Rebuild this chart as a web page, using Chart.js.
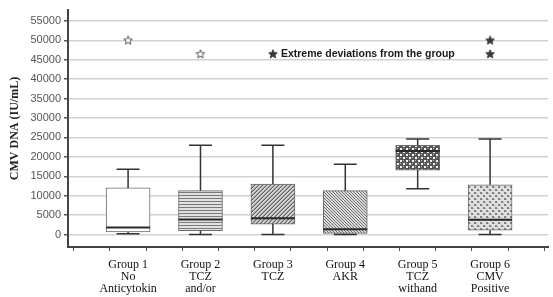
<!DOCTYPE html>
<html>
<head>
<meta charset="utf-8">
<script src="https://cdn.jsdelivr.net/npm/chart.js@4/dist/chart.umd.min.js"></script>
<style>
  html, body { margin: 0; padding: 0; background: #fff; }
  #wrap { width: 553px; height: 297px; position: relative; }
</style>
</head>
<body>
<div id="wrap"><canvas id="chart"></canvas></div>
<script>
const groupLabels = [
  ['Group 1', 'No', 'Anticytokin'],
  ['Group 2', 'TCZ', 'and/or'],
  ['Group 3', 'TCZ'],
  ['Group 4', 'AKR'],
  ['Group 5', 'TCZ', 'withand'],
  ['Group 6', 'CMV', 'Positive']
];
const whiskerMin = [200, 0, 0, 0, 11800, 0];
const q1 = [700, 1000, 2700, 300, 16600, 1100];
const median = [1800, 3900, 4200, 1400, 21500, 3800];
const q3 = [12000, 11300, 13000, 11300, 23000, 12800];
const whiskerMax = [16800, 23000, 23000, 18100, 24600, 24600];

// outliers: [group number, value]
const hollowOutliers = [[1, 50000], [2, 46500]];
const filledOutliers = [[6, 50000], [6, 46500]];
const noteStar = [3, 46500];
const noteText = 'Extreme deviations from the group';

const yTickValues = [];
for (let v = 0; v <= 57500; v += 2500) yTickValues.push(v);
const xTickValues = [0.5, 1, 1.5, 2, 2.5, 3, 3.5, 4, 4.5, 5, 5.5, 6, 6.5];

function makePattern(size, paint) {
  const c = document.createElement('canvas');
  c.width = size; c.height = size;
  const g = c.getContext('2d');
  paint(g, size);
  return g.createPattern(c, 'repeat');
}

const ctx0 = document.getElementById('chart').getContext('2d');
const patterns = [
  '#ffffff',
  makePattern(3, (g) => {
    g.fillStyle = '#e2e2e2'; g.fillRect(0, 0, 3, 3);
    g.fillStyle = '#7a7a7a'; g.fillRect(0, 0, 3, 1);
  }),
  makePattern(4, (g) => {
    g.fillStyle = '#d4d4d4'; g.fillRect(0, 0, 4, 4);
    for (let x = 0; x < 4; x++) for (let y = 0; y < 4; y++) {
      if ((x + y) % 4 === 3) { g.fillStyle = '#606060'; g.fillRect(x, y, 1, 1); }
      else if ((x + y) % 4 === 2) { g.fillStyle = '#a0a0a0'; g.fillRect(x, y, 1, 1); }
    }
  }),
  makePattern(3, (g) => {
    g.fillStyle = '#dcdcdc'; g.fillRect(0, 0, 3, 3);
    for (let x = 0; x < 3; x++) for (let y = 0; y < 3; y++) {
      if (((x - y) % 3 + 3) % 3 === 0) { g.fillStyle = '#6e6e6e'; g.fillRect(x, y, 1, 1); }
    }
  }),
  makePattern(6, (g) => {
    g.fillStyle = '#555'; g.fillRect(0, 0, 6, 6);
    g.fillStyle = '#f4f4f4'; g.fillRect(1, 1, 2, 2); g.fillRect(4, 4, 2, 2);
    g.fillStyle = '#bbb'; g.fillRect(4, 1, 1, 1); g.fillRect(1, 4, 1, 1);
  }),
  makePattern(6, (g) => {
    g.fillStyle = '#e0e0e0'; g.fillRect(0, 0, 6, 6);
    g.fillStyle = '#808080'; g.fillRect(0, 0, 2, 2); g.fillRect(3, 3, 2, 2);
    g.fillStyle = '#b0b0b0'; g.fillRect(2, 1, 1, 1); g.fillRect(5, 4, 1, 1);
  })
];

function makeStar(filled) {
  const c = document.createElement('canvas');
  c.width = 10; c.height = 10;
  const g = c.getContext('2d');
  g.beginPath();
  for (let i = 0; i < 10; i++) {
    const r = i % 2 === 0 ? 4.5 : 2;
    const a = -Math.PI / 2 + i * Math.PI / 5;
    const px = 5 + r * Math.cos(a), py = 5.3 + r * Math.sin(a);
    if (i === 0) g.moveTo(px, py); else g.lineTo(px, py);
  }
  g.closePath();
  g.fillStyle = filled ? '#3a3a3a' : '#fff';
  g.fill();
  g.strokeStyle = filled ? '#3a3a3a' : '#555';
  g.lineWidth = 1;
  g.stroke();
  return c;
}
const hollowStar = makeStar(false);
const filledStar = makeStar(true);

const boxExtras = {
  id: 'boxExtras',
  afterDatasetsDraw(chart) {
    const { ctx, scales: { x, y } } = chart;
    ctx.save();
    groupLabels.forEach((_, i) => {
      const cx = x.getPixelForValue(i + 1);
      const cap = 11.5;
      ctx.strokeStyle = '#333';
      ctx.lineWidth = 1.5;
      ctx.beginPath();
      ctx.moveTo(cx, y.getPixelForValue(q3[i]));
      ctx.lineTo(cx, y.getPixelForValue(whiskerMax[i]));
      ctx.moveTo(cx - cap, y.getPixelForValue(whiskerMax[i]));
      ctx.lineTo(cx + cap, y.getPixelForValue(whiskerMax[i]));
      ctx.moveTo(cx, y.getPixelForValue(q1[i]));
      ctx.lineTo(cx, y.getPixelForValue(whiskerMin[i]));
      ctx.moveTo(cx - cap, y.getPixelForValue(whiskerMin[i]));
      ctx.lineTo(cx + cap, y.getPixelForValue(whiskerMin[i]));
      ctx.stroke();
      // median
      ctx.lineWidth = 2;
      ctx.strokeStyle = '#2a2a2a';
      ctx.beginPath();
      ctx.moveTo(cx - 22, y.getPixelForValue(median[i]));
      ctx.lineTo(cx + 22, y.getPixelForValue(median[i]));
      ctx.stroke();
    });
    // note next to the legend star
    ctx.fillStyle = '#1a1a1a';
    ctx.font = 'bold 10.5px "Liberation Sans", Arial, sans-serif';
    ctx.textBaseline = 'middle';
    ctx.fillText(noteText, x.getPixelForValue(noteStar[0]) + 8, y.getPixelForValue(noteStar[1]));
    ctx.restore();
  }
};

new Chart(ctx0, {
  type: 'bar',
  data: {
    datasets: [
      {
        data: groupLabels.map((_, i) => ({ x: i + 1, y: [q1[i], q3[i]] })),
        backgroundColor: patterns,
        borderColor: '#6a6a6a',
        borderWidth: 1,
        borderSkipped: false,
        barThickness: 44,
        order: 2
      },
      {
        type: 'scatter',
        data: hollowOutliers.map(o => ({ x: o[0], y: o[1] })),
        pointStyle: hollowStar,
        order: 1
      },
      {
        type: 'scatter',
        data: filledOutliers.concat([noteStar]).map(o => ({ x: o[0], y: o[1] })),
        pointStyle: filledStar,
        order: 1
      }
    ]
  },
  options: {
    responsive: true,
    maintainAspectRatio: false,
    animation: false,
    layout: { padding: { top: 10, right: 0, left: 0, bottom: 0 } },
    plugins: {
      legend: { display: false },
      tooltip: { enabled: false }
    },
    scales: {
      x: {
        type: 'linear',
        min: 0.17,
        max: 6.8,
        offset: false,
        afterBuildTicks: s => { s.ticks = xTickValues.map(v => ({ value: v })); },
        afterFit: s => { s.height = 50; },
        border: { color: '#444', width: 2 },
        grid: { drawOnChartArea: false, tickLength: 4, tickColor: '#555' },
        ticks: {
          autoSkip: false,
          maxRotation: 0,
          padding: 8,
          color: '#111',
          font: { family: '"Liberation Serif", "Times New Roman", serif', size: 12, lineHeight: 1.0 },
          callback: v => Number.isInteger(v) ? groupLabels[v - 1] : ''
        }
      },
      y: {
        min: -3200,
        max: 57800,
        afterBuildTicks: s => { s.ticks = yTickValues.map(v => ({ value: v })); },
        afterFit: s => { s.width = 68; },
        border: { color: '#444', width: 2 },
        grid: {
          color: c => (c.tick && c.tick.value % 5000 === 0) ? '#d2d2d2' : 'rgba(0,0,0,0)',
          lineWidth: 1.5,
          tickLength: 4,
          tickColor: '#555'
        },
        ticks: {
          padding: 3,
          color: '#555',
          font: { family: '"Liberation Sans", Arial, sans-serif', size: 11 },
          callback: v => v % 5000 === 0 ? String(v) : ''
        },
        title: {
          display: true,
          text: 'CMV DNA (IU/mL)',
          color: '#222',
          padding: { top: 8, bottom: 0 },
          font: { family: '"Liberation Serif", "Times New Roman", serif', size: 12, weight: 'bold' }
        }
      }
    }
  },
  plugins: [boxExtras]
});
</script>
</body>
</html>
